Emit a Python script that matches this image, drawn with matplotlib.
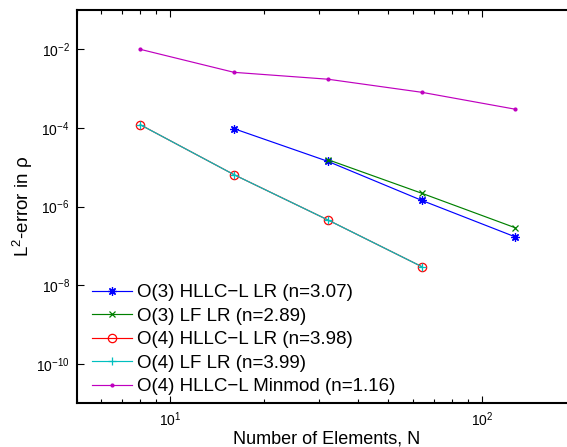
import matplotlib
matplotlib.use("Agg")
import matplotlib.pyplot as plt
from matplotlib.ticker import LogLocator, NullLocator, FixedLocator

plt.rcParams['font.family'] = ['Liberation Sans', 'DejaVu Sans']
plt.rcParams['mathtext.default'] = 'regular'

N = [8, 16, 32, 64, 128]
n_o3_hllc = [16, 32, 64, 128]
err_o3_hllc = [9.6e-5, 1.42e-5, 1.45e-6, 1.7e-7]
n_o3_lf = [32, 64, 128]
err_o3_lf = [1.57e-5, 2.2e-6, 2.9e-7]
n_o4_hllc = [8, 16, 32, 64]
err_o4_hllc = [1.21e-4, 6.5e-6, 4.6e-7, 3.0e-8]
n_o4_lf = [8, 16, 32, 64]
err_o4_lf = [1.21e-4, 6.5e-6, 4.6e-7, 3.0e-8]
n_minmod = [8, 16, 32, 64, 128]
err_minmod = [1.0e-2, 2.6e-3, 1.74e-3, 8.1e-4, 3.0e-4]

labels = ["O(3) HLLC\u2212L LR (n=3.07)", "O(3) LF LR (n=2.89)",
          "O(4) HLLC\u2212L LR (n=3.98)", "O(4) LF LR (n=3.99)",
          "O(4) HLLC\u2212L Minmod (n=1.16)"]
yticks = [1e-10, 1e-8, 1e-6, 1e-4, 1e-2]

fig = plt.figure(figsize=(5.67, 4.47), dpi=100)
W, H = 567, 447
x0, x1, y0, y1 = 76.7, 575.7, 10, 403.3
ax = fig.add_axes([x0 / W, (H - y1) / H, (x1 - x0) / W, (y1 - y0) / H])

lw = 0.85
ax.plot(n_o3_hllc, err_o3_hllc, color=(0, 0, 1), marker=(8, 2, 0), ms=6, mew=0.9, lw=lw, label=labels[0])
ax.plot(n_o3_lf, err_o3_lf, color=(0, 0.5, 0), marker='x', ms=5, mew=0.9, lw=lw, label=labels[1])
ax.plot(n_o4_hllc, err_o4_hllc, color=(1, 0, 0), marker='o', mfc='none', ms=6, mew=0.9, lw=lw, label=labels[2])
ax.plot(n_o4_lf, err_o4_lf, color=(0, 0.75, 0.75), marker='+', ms=6, mew=0.9, lw=lw, label=labels[3])
ax.plot(n_minmod, err_minmod, color=(0.75, 0, 0.75), marker='.', ms=4, lw=lw, label=labels[4])

ax.set_xscale('log')
ax.set_yscale('log')
ax.set_xlim(5, 200)
ax.set_ylim(1e-11, 1e-1)
ax.yaxis.set_major_locator(FixedLocator(yticks))
ax.yaxis.set_minor_locator(NullLocator())
ax.xaxis.set_major_locator(FixedLocator([10, 100]))
ax.xaxis.set_minor_locator(LogLocator(base=10, subs=range(2, 10), numticks=20))

for s in ax.spines.values():
    s.set_linewidth(1.5)
ax.tick_params(which='both', direction='in', top=True, right=True, labelsize=10, width=0.8)
ax.tick_params(which='major', length=5)
ax.tick_params(which='minor', length=3)
ax.tick_params(axis='y', pad=5)
ax.tick_params(axis='x', pad=5)

ax.set_xlabel("Number of Elements, N", fontsize=13, labelpad=1)
ax.set_ylabel("L$^2$-error in \u03c1", fontsize=13.5)
ax.yaxis.set_label_coords(-0.084, 0.5)

ax.legend(loc='lower left', frameon=False, fontsize=13.5, handlelength=2.13,
          handletextpad=0.27, labelspacing=0.34, borderaxespad=0, borderpad=0,
          bbox_to_anchor=(0.0307, 0.020))

fig.savefig("out.png", dpi=100)
